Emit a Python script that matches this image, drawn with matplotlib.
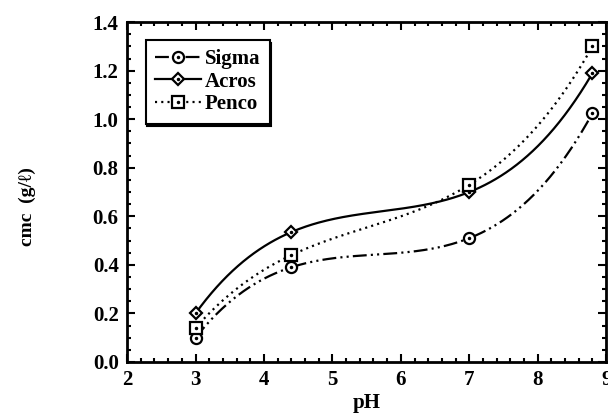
import numpy as np
import matplotlib
matplotlib.use("Agg")
import matplotlib.pyplot as plt
from matplotlib.ticker import MultipleLocator
from matplotlib.legend_handler import HandlerTuple

plt.rcParams['font.family'] = ['Liberation Serif', 'DejaVu Serif']
plt.rcParams['font.weight'] = 'bold'
plt.rcParams['lines.scale_dashes'] = False

ph = [3.0, 4.4, 7.0, 8.8]
sigma = [0.10, 0.39, 0.51, 1.025]
acros = [0.20, 0.535, 0.70, 1.19]
penco = [0.14, 0.44, 0.73, 1.30]

series_names = ["Sigma", "Acros", "Penco"]
series_vals = [sigma, acros, penco]
markers = ['o', 'D', 's']
msizes = [8, 6.5, 8]
styles = [(0, (10, 3, 1.5, 3, 1.5, 3)), '-', (0, (1.5, 3))]

fig = plt.figure(figsize=(6.08, 4.17), dpi=100)
ax = fig.add_axes([0.209, 0.132, 0.788, 0.815])

xs = np.linspace(min(ph), max(ph), 300)
handles = []
for name, vals, mk, ms, ls in zip(series_names, series_vals, markers, msizes, styles):
    coef = np.polyfit(ph, vals, 3)
    ax.plot(xs, np.polyval(coef, xs), color='black', lw=1.6, linestyle=ls, zorder=2)
    m, = ax.plot(ph, vals, linestyle='none', marker=mk, ms=ms, mfc='white',
                 mec='black', mew=1.6, zorder=3)
    d, = ax.plot(ph, vals, linestyle='none', marker='.', ms=3, color='black', zorder=4)
    ln, = ax.plot([], [], color='black', lw=1.6, linestyle=ls, marker=mk, ms=ms,
                  mfc='white', mec='black', mew=1.6)
    handles.append((ln, d))

ax.set_xlim(2, 9)
ax.set_ylim(0, 1.4)
ax.xaxis.set_major_locator(MultipleLocator(1))
ax.xaxis.set_minor_locator(MultipleLocator(0.2))
ax.yaxis.set_major_locator(MultipleLocator(0.2))
ax.yaxis.set_minor_locator(MultipleLocator(0.05))
ax.yaxis.set_major_formatter(matplotlib.ticker.FormatStrFormatter('%.1f'))
ax.tick_params(which='both', direction='in', top=True, right=True, width=1.5)
ax.tick_params(which='major', length=6, labelsize=15, pad=6)
ax.tick_params(which='minor', length=3)
for lab in ax.get_xticklabels() + ax.get_yticklabels():
    lab.set_fontweight('bold')
for sp in ax.spines.values():
    sp.set_linewidth(2)

ax.set_xlabel('pH', fontsize=15, fontweight='bold', labelpad=2)
ax.set_ylabel('cmc  (g/ℓ)', fontsize=14, fontweight='bold')
ax.yaxis.set_label_coords(-0.19, 0.456)

leg = ax.legend(handles, series_names, loc='upper left', bbox_to_anchor=(0.03, 0.96),
                handler_map={tuple: HandlerTuple(ndivide=1)},
                prop={'size': 15, 'weight': 'bold'}, frameon=True, fancybox=False,
                shadow={'color': 'black', 'alpha': 1, 'ox': 1, 'oy': -2},
                handlelength=2.2, handletextpad=0.2, labelspacing=0.12,
                borderpad=0.45, borderaxespad=0.2)
leg.get_frame().set_edgecolor('black')
leg.get_frame().set_linewidth(1.5)

fig.savefig('out.png', dpi=100)
